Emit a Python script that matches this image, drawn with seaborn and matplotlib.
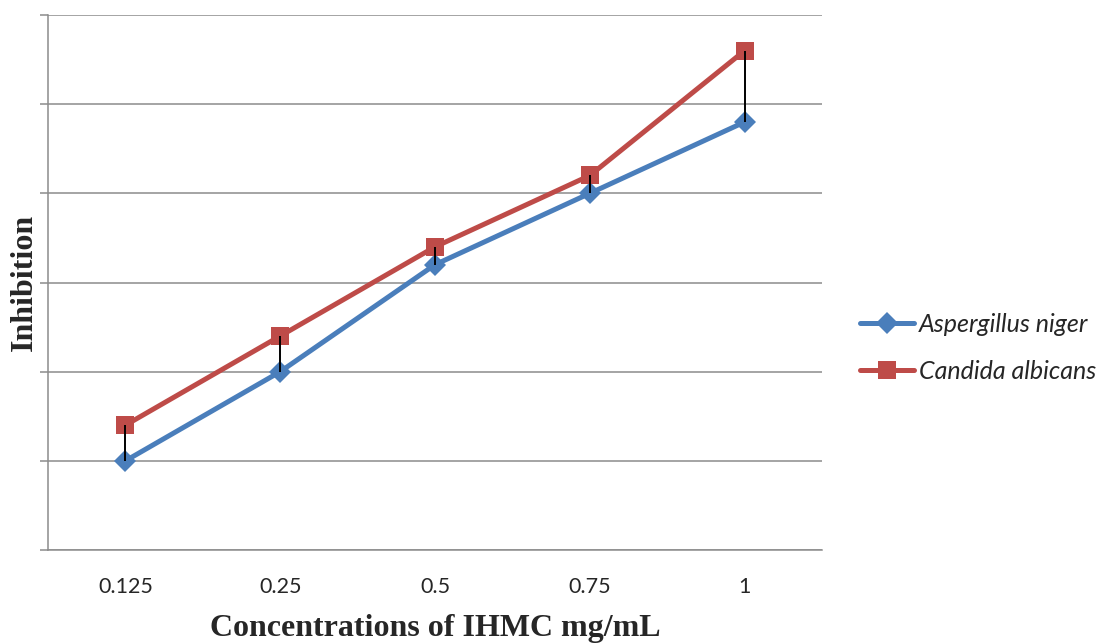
import numpy as np
import pandas as pd
import matplotlib
matplotlib.use('Agg')
from matplotlib import pyplot as plt
import seaborn as sns

concentrations = ['0.125', '0.25', '0.5', '0.75', '1']
aspergillus = [1.0, 2.0, 3.2, 4.0, 4.8]
candida = [1.4, 2.4, 3.4, 4.2, 5.6]
species = ['Aspergillus niger', 'Candida albicans']

df = pd.DataFrame({
    'conc': concentrations * 2,
    'inhibition': aspergillus + candida,
    'species': [species[0]] * 5 + [species[1]] * 5,
})

sns.set_style('white')
plt.rcParams['font.family'] = ['Lato', 'DejaVu Sans']

fig = plt.figure(figsize=(11.04, 6.43), dpi=100)
ax = fig.add_axes([0.0435, 0.1446, 0.7011, 0.8321])

palette = {species[0]: '#4a7ebb', species[1]: '#be4b48'}
markers = {species[0]: 'D', species[1]: 's'}
msizes = {species[0]: 11, species[1]: 13.5}

for sp in species:
    sns.lineplot(
        data=df[df['species'] == sp], x='conc', y='inhibition',
        color=palette[sp], marker=markers[sp], lw=3.6,
        markersize=msizes[sp], markeredgewidth=0, sort=False, ax=ax,
        zorder=3
    )

# high-low lines between the two series
x = np.arange(len(concentrations))
ax.vlines(x, aspergillus, candida, color='black', lw=1.4, zorder=5)

ax.set_xlim(-0.5, 4.5)
ax.set_ylim(0, 6)
ax.set_yticks(range(0, 7))
ax.set_yticklabels([])
ax.yaxis.grid(True, color='#8c8c8c', lw=1.1)
ax.set_axisbelow(True)
ax.tick_params(axis='y', left=True, length=6, width=1.1, color='#8c8c8c')
ax.tick_params(axis='x', bottom=False, labelsize=15.5, pad=16)

for s in ['top', 'right']:
    ax.spines[s].set_visible(False)
for s in ['left', 'bottom']:
    ax.spines[s].set_color('#8c8c8c')
    ax.spines[s].set_linewidth(1.1)

ax.set_xlabel('Concentrations of IHMC mg/mL', family='Liberation Serif',
              fontweight='bold', fontsize=23, labelpad=12)
ax.set_ylabel('Inhibition', family='Liberation Serif',
              fontweight='bold', fontsize=23, labelpad=-3)

handles = [
    plt.Line2D([], [], color=palette[sp], lw=3.6, marker=markers[sp],
               markersize=msizes[sp], markeredgewidth=0)
    for sp in species
]
leg = fig.legend(handles, species, loc='center left',
                 bbox_to_anchor=(0.779, 0.459), frameon=False,
                 borderaxespad=0, borderpad=0,
                 prop={'style': 'italic', 'size': 18}, handlelength=2.15,
                 handletextpad=0.2, labelspacing=0.95)

fig.savefig('out.png', dpi=100)
